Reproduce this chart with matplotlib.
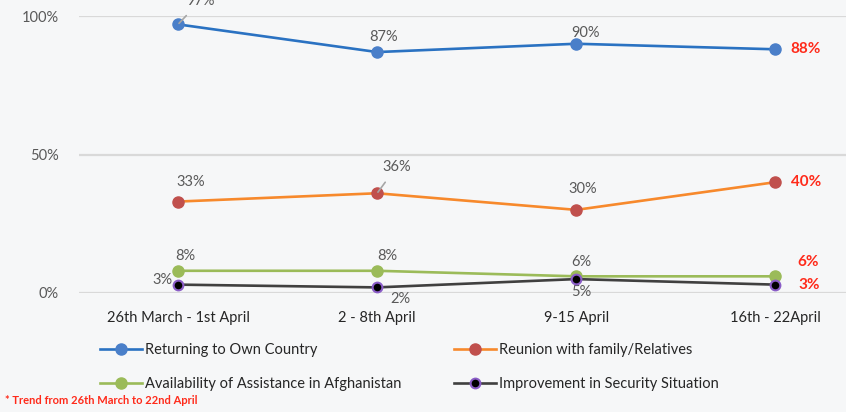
import matplotlib.pyplot as plt

plt.rcParams['font.family'] = ['Lato', 'DejaVu Sans']

periods = ["26th March - 1st April", "2 - 8th April", "9-15 April", "16th - 22April"]
returning = [97, 87, 90, 88]
reunion = [33, 36, 30, 40]
assistance = [8, 8, 6, 6]
security = [3, 2, 5, 3]

names = ["Returning to Own Country", "Reunion with family/Relatives",
         "Availability of Assistance in Afghanistan", "Improvement in Security Situation"]

bg = "#f6f7f8"
grey = "#595959"
red = "#ff2a1a"

fig = plt.figure(figsize=(8.46, 4.12), dpi=100, facecolor=bg)
ax = fig.add_axes([0.0928, 0.289, 1.034 - 0.0928, 0.672])
ax.set_facecolor(bg)

x = range(len(periods))
l1, = ax.plot(x, returning, color="#2a72c2", lw=1.9, marker="o", ms=8,
              mfc="#4a7fc9", mec="#4a7fc9", clip_on=False, zorder=3)
l2, = ax.plot(x, reunion, color="#f7892c", lw=1.9, marker="o", ms=8,
              mfc="#c0504d", mec="#c0504d", clip_on=False, zorder=3)
l3, = ax.plot(x, assistance, color="#9bbb59", lw=1.9, marker="o", ms=8,
              mfc="#9bbb59", mec="#9bbb59", clip_on=False, zorder=3)
l4, = ax.plot(x, security, color="#404040", lw=1.9, marker="o", ms=7,
              mfc="black", mec="#8a5cc7", mew=1.5, clip_on=False, zorder=4)

ax.set_xlim(-0.5, 3.5)
ax.set_ylim(0, 100)
ax.set_yticks([0, 50, 100])
ax.set_yticklabels(["0%", "50%", "100%"], color=grey, fontsize=10.5)
ax.set_xticks(list(x))
ax.set_xticklabels(periods, color="#262626", fontsize=10.5)
ax.tick_params(axis="both", length=0)
ax.tick_params(axis="y", pad=14)
ax.tick_params(axis="x", pad=13)
ax.grid(axis="y", color="#d9d9d9", lw=1.6)
ax.set_axisbelow(True)
for s in ax.spines.values():
    s.set_visible(False)


def lab(i, v, dx, dy, ha="center", color=grey, bold=False, leader=False, size=10.5):
    kw = dict(textcoords="offset points", ha=ha, va="center", color=color,
              fontsize=size, fontweight="bold" if bold else "normal",
              annotation_clip=False)
    if leader:
        kw["arrowprops"] = dict(arrowstyle="-", color="#a6a6a6", lw=1.2,
                                shrinkA=5, shrinkB=1)
    ax.annotate(f"{v}%", (i, v), xytext=(dx, dy), **kw)


# returning
lab(0, returning[0], 16, 17, leader=True)
lab(1, returning[1], 5, 11)
lab(2, returning[2], 7, 8)
lab(3, returning[3], 11, 0, ha="left", color=red, bold=True, size=11)
# reunion
lab(0, reunion[0], 9, 14)
lab(1, reunion[1], 14, 19, leader=True)
lab(2, reunion[2], 5, 15)
lab(3, reunion[3], 11, 0, ha="left", color=red, bold=True, size=11)
# assistance
lab(0, assistance[0], 5, 11)
lab(1, assistance[1], 7, 11)
lab(2, assistance[2], 4, 10)
lab(3, assistance[3], 16, 10, ha="left", color=red, bold=True, size=11)
# security
lab(0, security[0], -11, 3)
lab(1, security[1], 17, -8)
lab(2, security[2], 4, -9)
lab(3, security[3], 17, 0, ha="left", color=red, bold=True, size=11)

fig.legend([l1, l3, l2, l4], [names[0], names[2], names[1], names[3]],
           ncol=2, loc="upper left", bbox_to_anchor=(100 / 846, 1 - 343 / 412),
           frameon=False, fontsize=10.5, handlelength=2.9, handletextpad=0.2,
           columnspacing=3.6, labelspacing=1.35, borderpad=0, borderaxespad=0,
           labelcolor="#262626")

fig.text(5 / 846, 1 - 401 / 412, "* Trend from 26th March to 22nd April",
         color=red, fontsize=8, fontweight="bold", va="center", ha="left")

fig.savefig("out.png", dpi=100, facecolor=bg)
